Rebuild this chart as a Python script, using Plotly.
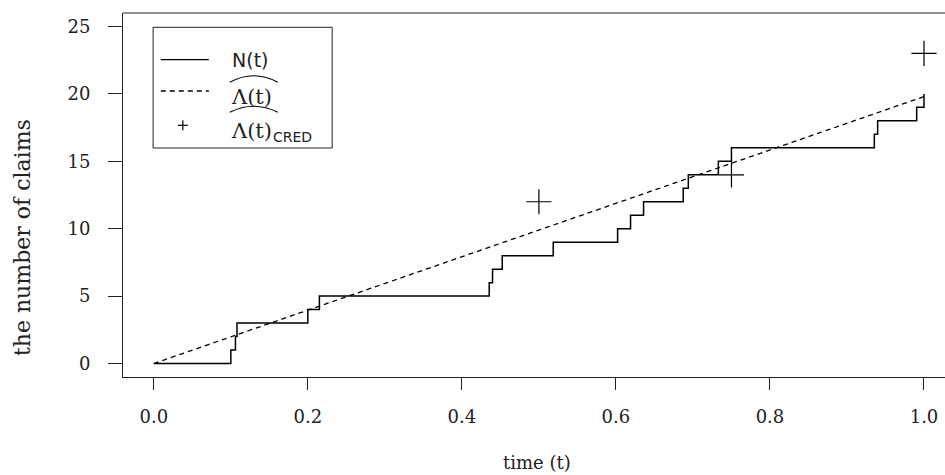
import plotly.graph_objects as go

# Claim arrival times and the running count N(t)
claim_times = [0.100, 0.106, 0.108, 0.200, 0.215, 0.4355, 0.4398, 0.4524, 0.5186,
               0.6022, 0.6190, 0.6359, 0.6874, 0.694, 0.733, 0.750, 0.9355, 0.9398,
               0.9905, 1.0]
claim_counts = [1, 2, 3, 4, 5, 6, 7, 8, 9, 10, 11, 12, 13, 14, 15, 16, 17, 18, 19, 20]

# Estimated cumulative intensity (straight line between its end points)
lambda_t = [0.0, 1.0]
lambda_hat = [0.0, 19.8]

# Credibility estimates
cred_t = [0.5, 0.75, 1.0]
cred_vals = [12, 14, 23]

x_ticks = [0.0, 0.2, 0.4, 0.6, 0.8, 1.0]
x_tick_text = ["0.0", "0.2", "0.4", "0.6", "0.8", "1.0"]
y_ticks = [0, 5, 10, 15, 20, 25]

W, H = 945, 475
L, R, T, B = 123.2, 945.0, 12.7, 376.7
INK = "#222222"


def px(xp):
    return (xp - L) / (R - L)


def py(yp):
    return (B - yp) / (B - T)


fig = go.Figure()

fig.add_trace(go.Scatter(
    x=[0.0] + claim_times, y=[0] + claim_counts,
    mode="lines", line=dict(color="black", width=1.5, shape="hv"),
    showlegend=False, hoverinfo="skip"))

fig.add_trace(go.Scatter(
    x=lambda_t, y=lambda_hat,
    mode="lines", line=dict(color="black", width=1.3, dash="5px,4px"),
    showlegend=False, hoverinfo="skip"))

fig.add_trace(go.Scatter(
    x=cred_t, y=cred_vals,
    mode="markers",
    marker=dict(symbol="cross-thin", size=18, line=dict(color="black", width=1.2)),
    showlegend=False, hoverinfo="skip", cliponaxis=False))

axis_font = dict(family="DejaVu Serif", size=18, color=INK)

fig.update_xaxes(
    range=[-0.04, -0.04 + (R - L) / 770.0],
    tickvals=x_ticks, ticktext=x_tick_text,
    ticks="outside", ticklen=12, tickwidth=1, tickcolor=INK,
    showline=True, linecolor=INK, linewidth=1,
    showgrid=False, zeroline=False,
    tickfont=axis_font, ticklabelstandoff=11,
)
fig.update_yaxes(
    range=[-1, 26],
    tickvals=y_ticks,
    ticks="outside", ticklen=14, tickwidth=1, tickcolor=INK,
    showline=True, linecolor=INK, linewidth=1,
    showgrid=False, zeroline=False,
    tickfont=axis_font, ticklabelstandoff=14,
)

shapes = []
# top edge of the plot frame
shapes.append(dict(type="line", xref="paper", yref="paper", x0=0, x1=1, y0=1, y1=1,
                   line=dict(color=INK, width=1)))

# legend box
shapes.append(dict(type="rect", xref="paper", yref="paper",
                   x0=px(153.3), x1=px(332.3), y0=py(147.7), y1=py(27),
                   line=dict(color=INK, width=1), fillcolor="white", layer="above"))
# legend samples
shapes.append(dict(type="line", xref="paper", yref="paper",
                   x0=px(161), x1=px(209), y0=py(59.3), y1=py(59.3),
                   line=dict(color="black", width=1.3), layer="above"))
shapes.append(dict(type="line", xref="paper", yref="paper",
                   x0=px(161), x1=px(209), y0=py(90.7), y1=py(90.7),
                   line=dict(color="black", width=1.3, dash="5px,4px"), layer="above"))
shapes.append(dict(type="line", xref="paper", yref="paper",
                   x0=px(178), x1=px(188), y0=py(125), y1=py(125),
                   line=dict(color="black", width=1.2), layer="above"))
shapes.append(dict(type="line", xref="paper", yref="paper",
                   x0=px(183), x1=px(183), y0=py(120), y1=py(130),
                   line=dict(color="black", width=1.2), layer="above"))


def hat_path(x0, x1, ybase, ypeak):
    xm = (x0 + x1) / 2
    return (f"M {px(x0)},{py(ybase)} Q {px(xm)},{py(2 * ypeak - ybase)} "
            f"{px(x1)},{py(ybase)}")


for yb, yp in [(82, 75.5), (112, 106)]:
    shapes.append(dict(type="path", xref="paper", yref="paper",
                       path=hat_path(230, 278, yb, yp),
                       line=dict(color="black", width=1.1), layer="above"))

annotations = [
    dict(text="N(t)", x=px(230), y=py(60), xanchor="left", yanchor="middle",
         font=dict(family="DejaVu Sans", size=19, color=INK)),
    dict(text="Λ(t)", x=px(229), y=py(97), xanchor="left", yanchor="middle",
         font=dict(family="DejaVu Serif", size=21, color=INK)),
    dict(text="Λ(t)", x=px(229), y=py(131), xanchor="left", yanchor="middle",
         font=dict(family="DejaVu Serif", size=21, color=INK)),
    dict(text="CRED", x=px(271), y=py(137), xanchor="left", yanchor="middle",
         font=dict(family="DejaVu Sans", size=14, color=INK)),
    dict(text="time (t)", x=px(537), y=py(462), xanchor="center", yanchor="middle",
         font=dict(family="DejaVu Serif", size=18, color=INK)),
    dict(text="the number of claims", x=px(23), y=py(237), textangle=-90,
         xanchor="center", yanchor="middle",
         font=dict(family="DejaVu Serif", size=22, color=INK)),
]
for a in annotations:
    a.update(xref="paper", yref="paper", showarrow=False)

fig.update_layout(
    width=W, height=H,
    margin=dict(l=L, r=W - R, t=T, b=H - B, pad=0),
    paper_bgcolor="white", plot_bgcolor="white",
    shapes=shapes, annotations=annotations,
    showlegend=False,
)

fig.write_html("out.html")
